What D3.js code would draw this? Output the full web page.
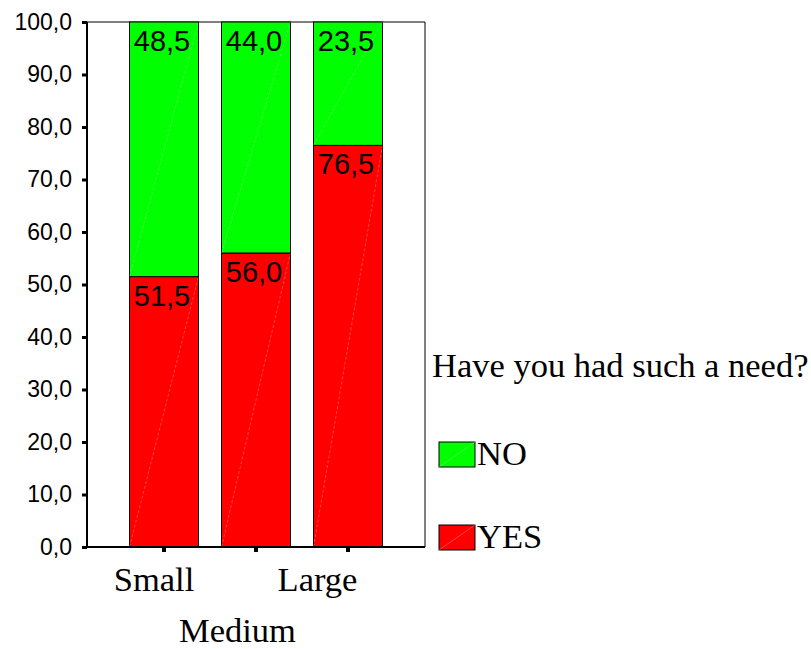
<!DOCTYPE html>
<html><head><meta charset="utf-8">
<script src="https://cdn.jsdelivr.net/npm/d3@7"></script>
<style>body{margin:0;background:#fff}</style>
</head><body><svg id="c" width="811" height="649"></svg>
<script>
const categories = ["Small", "Medium", "Large"];
const yesValues = [51.5, 56.0, 76.5];
const noValues = [48.5, 44.0, 23.5];
const yTicks = [0, 10, 20, 30, 40, 50, 60, 70, 80, 90, 100];
const seriesNames = ["NO", "YES"];
const legendTitle = "Have you had such a need?";

const colors = {YES: "#ff0000", NO: "#00ff00"};
const svg = d3.select("#c");
const L = 87, R = 425, T = 22, B = 547;
const serif = "Liberation Serif, Times New Roman, serif";
const sans = "Liberation Sans, Arial, sans-serif";

const x = d3.scaleBand().domain(categories).range([L, R]).paddingInner(0.25).paddingOuter(0.462);
const y = d3.scaleLinear().domain([0, 100]).range([B, T]);
const fmt = v => d3.format(".1f")(v).replace(".", ",");

const rows = categories.map((c, i) => ({cat: c, YES: yesValues[i], NO: noValues[i]}));
const stack = d3.stack().keys(["YES", "NO"])(rows);

// frame (top and right thin)
svg.append("line").attr("x1", L).attr("x2", R).attr("y1", T).attr("y2", T).attr("stroke", "#000").attr("stroke-width", 1);
svg.append("line").attr("x1", R).attr("x2", R).attr("y1", T).attr("y2", B).attr("stroke", "#000").attr("stroke-width", 1);

// bars
stack.forEach(s => {
  const g = svg.append("g");
  s.forEach(d => {
    const x0 = x(d.data.cat), w = x.bandwidth();
    const y0 = y(d[0]), y1 = y(d[1]);
    g.append("rect").attr("x", x0).attr("y", y1).attr("width", w).attr("height", y0 - y1)
      .attr("fill", colors[s.key]).attr("stroke", "#000").attr("stroke-width", 1);
    g.append("line").attr("x1", x0).attr("y1", y0).attr("x2", x0 + w).attr("y2", y1)
      .attr("stroke", "#fff").attr("stroke-opacity", 0.45).attr("stroke-width", 0.6).attr("stroke-dasharray", "3,2");
    g.append("text").attr("x", x0 + w / 2 - 2).attr("y", y1 + 29).attr("text-anchor", "middle")
      .attr("font-family", sans).attr("font-size", 29).attr("fill", "#000")
      .text(fmt(d[1] - d[0]));
  });
});

// y axis
const yAxis = d3.axisLeft(y).tickValues(yTicks).tickFormat(fmt).tickSize(5).tickPadding(10);
const ga = svg.append("g").attr("transform", `translate(${L},0)`).call(yAxis);
ga.select(".domain").attr("stroke-width", 2).attr("d", `M0,${T}V${B}`);
ga.selectAll(".tick line").attr("stroke-width", 3);
ga.selectAll("text").attr("font-family", sans).attr("font-size", 23).attr("fill", "#000");

// x axis
const xAxis = d3.axisBottom(x).tickSize(5).tickFormat("");
const gx = svg.append("g").attr("transform", `translate(0,${B})`).call(xAxis);
gx.select(".domain").attr("stroke-width", 2).attr("d", `M${L - 4},0H${R}`);
gx.selectAll(".tick line").attr("stroke-width", 4);

// x category labels (staggered)
const labelShift = [-10, -18.5, -30.5];
const labelRow = [0, 1, 0];
categories.forEach((c, i) => {
  svg.append("text").attr("x", x(c) + x.bandwidth() / 2 + labelShift[i]).attr("y", 591 + labelRow[i] * 51)
    .attr("text-anchor", "middle").attr("font-family", serif)
    .attr("font-size", 34.5).attr("fill", "#000").text(c);
});

// legend
svg.append("text").attr("x", 432).attr("y", 377).attr("font-family", serif)
  .attr("font-size", 34.5).attr("fill", "#000").text(legendTitle);
seriesNames.forEach((n, i) => {
  const by = 442 + i * 83;
  svg.append("rect").attr("x", 439).attr("y", by).attr("width", 36).attr("height", 25)
    .attr("fill", colors[n]).attr("stroke", "#000").attr("stroke-width", 1);
  svg.append("line").attr("x1", 439).attr("y1", by + 25).attr("x2", 475).attr("y2", by)
    .attr("stroke", "#fff").attr("stroke-opacity", 0.45).attr("stroke-width", 0.6);
  svg.append("text").attr("x", 477).attr("y", by + 23).attr("font-family", serif)
    .attr("font-size", 34.5).attr("fill", "#000").text(n);
});
</script></body></html>
